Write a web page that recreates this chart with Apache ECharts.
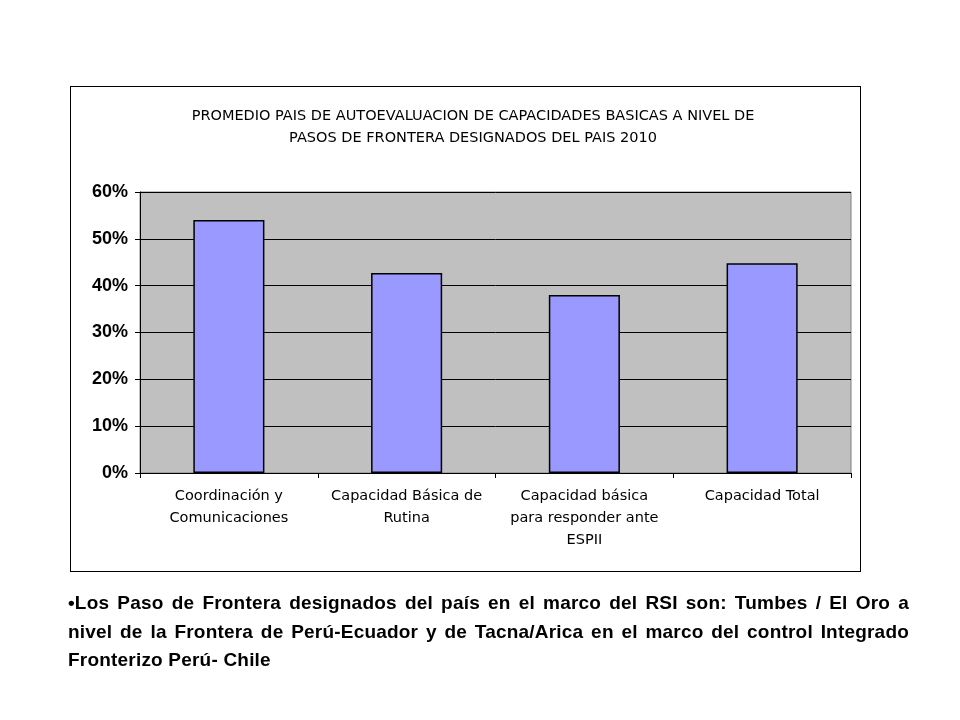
<!DOCTYPE html>
<html><head><meta charset="utf-8">
<script src="https://cdn.jsdelivr.net/npm/echarts@6/dist/echarts.min.js"></script>
<style>
body{margin:0;background:#fff;}
#c{position:absolute;left:0;top:0;width:960px;height:720px;}
#box{position:absolute;left:70px;top:86px;width:791px;height:486px;border:1px solid #000;box-sizing:border-box;}
#note{position:absolute;left:68px;top:589px;width:841px;font-family:"Liberation Sans",Arial,sans-serif;font-weight:bold;font-size:19px;letter-spacing:0.2px;line-height:28.5px;text-align:justify;color:#000;}
</style></head><body>
<div id="box"></div>
<div id="c"></div>
<div id="note">•Los Paso de Frontera designados del país en el marco del RSI son: Tumbes / El Oro a nivel de la Frontera de Perú-Ecuador y de Tacna/Arica en el marco del control Integrado Fronterizo Perú- Chile</div>
<script>
const categories = ["Coordinación y\nComunicaciones","Capacidad Básica de\nRutina","Capacidad básica\npara responder ante\nESPII","Capacidad Total"];
const values = [54.0, 42.7, 38.0, 44.8];
const titleText = "PROMEDIO PAIS DE AUTOEVALUACION DE CAPACIDADES BASICAS A NIVEL DE\nPASOS DE FRONTERA DESIGNADOS DEL PAIS 2010";
const chart = echarts.init(document.getElementById('c'));
chart.setOption({
  animation:false,
  title:{text:titleText,left:468,top:100,textAlign:'center',textStyle:{fontFamily:'DejaVu Sans',fontSize:14.5,fontWeight:'normal',color:'#000',lineHeight:22}},
  grid:{left:140,top:192,width:711,height:281,show:true,backgroundColor:'#C0C0C0',borderColor:'#808080',borderWidth:1},
  xAxis:{type:'category',data:categories,axisLine:{lineStyle:{color:'#000'}},axisTick:{show:true,lineStyle:{color:'#000'}},
    axisLabel:{interval:0,fontFamily:'DejaVu Sans',fontSize:14.5,color:'#000',lineHeight:22,margin:12}},
  yAxis:{type:'value',min:0,max:60,interval:10,axisLine:{show:true,lineStyle:{color:'#000'}},axisTick:{show:true,lineStyle:{color:'#000'}},
    axisLabel:{formatter:'{value}%',fontFamily:'Liberation Sans',fontSize:18,fontWeight:'bold',color:'#000',margin:12},
    splitLine:{lineStyle:{color:'#000',width:1}}},
  series:[{type:'bar',data:values,barWidth:'40%',itemStyle:{color:'#9999FF',borderColor:'#000',borderWidth:1.5}}]
});
</script></body></html>
